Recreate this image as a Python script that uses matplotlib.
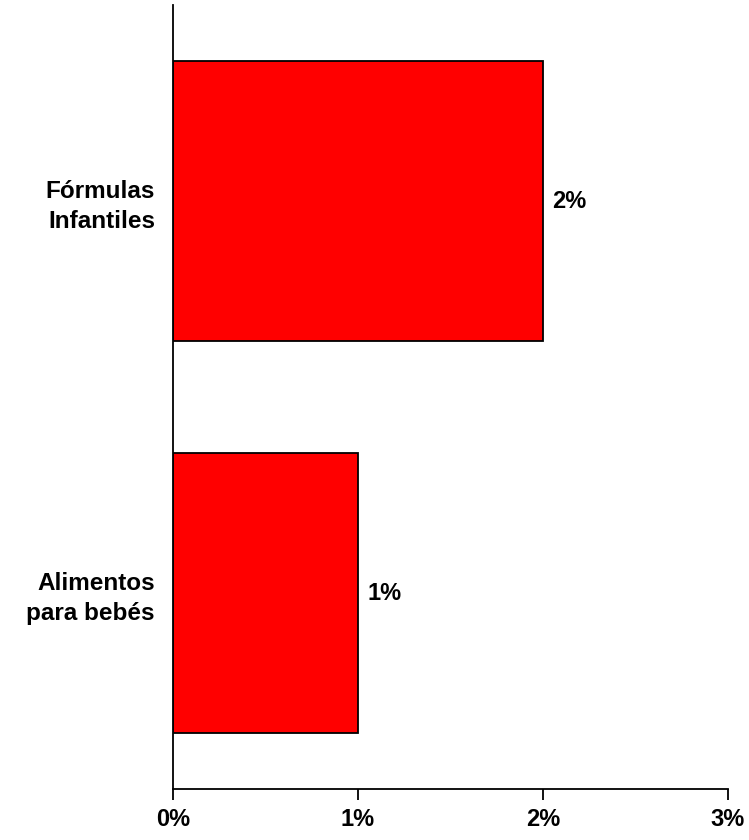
import matplotlib.pyplot as plt
from matplotlib.ticker import FuncFormatter

# datos
categorias = ['Alimentos\npara bebés', 'Fórmulas\nInfantiles']
valores = [1, 2]
etiquetas = ['1%', '2%']

plt.rcParams['font.family'] = ['Liberation Sans', 'DejaVu Sans']

fig = plt.figure(figsize=(7.49, 8.4), dpi=100)
ax = fig.add_axes([173 / 749, 1 - 789 / 840, (728 - 173) / 749, (789 - 5) / 840])

pos = range(len(categorias))
ax.barh(pos, valores, height=0.714, color='#ff0000', edgecolor='black', linewidth=1.3)

for p, v, t in zip(pos, valores, etiquetas):
    ax.text(v + 0.05, p, t, va='center', ha='left', fontsize=17, fontweight='bold')

ax.set_xlim(0, 3)
ax.set_ylim(-0.5, 1.5)
ax.set_xticks([0, 1, 2, 3])
ax.xaxis.set_major_formatter(FuncFormatter(lambda x, _: f'{int(x)}%'))
ax.set_yticks(list(pos))
ax.set_yticklabels(categorias, fontsize=17.5, fontweight='bold',
                   multialignment='right', linespacing=1.35)
ax.tick_params(axis='y', length=0, pad=13)
ax.tick_params(axis='x', length=8, width=1.3, pad=6, labelsize=17)
for lbl in ax.get_xticklabels():
    lbl.set_fontweight('bold')

ax.spines['top'].set_visible(False)
ax.spines['right'].set_visible(False)
ax.spines['left'].set_linewidth(1.3)
ax.spines['bottom'].set_linewidth(1.3)

fig.savefig('out.png', dpi=100)
